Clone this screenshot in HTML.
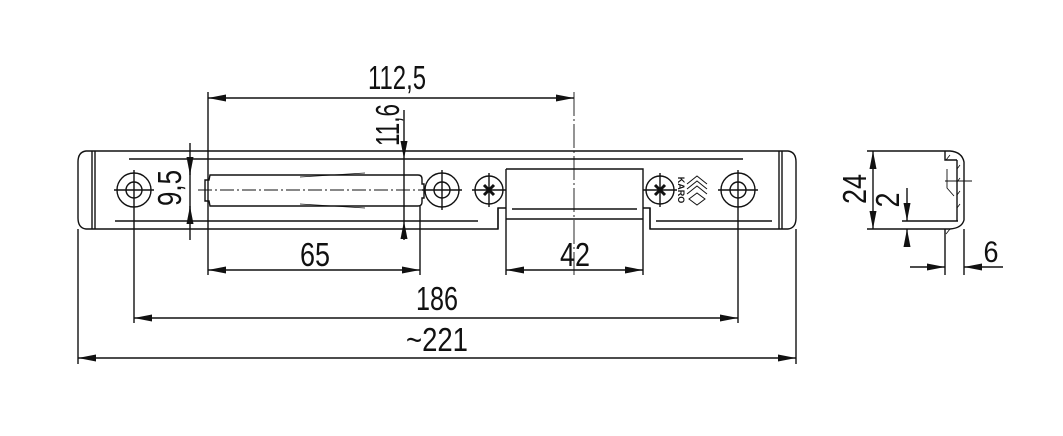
<!DOCTYPE html>
<html><head><meta charset="utf-8"><style>
html,body{margin:0;padding:0;background:#fff}
svg{display:block}
text{font-family:"Liberation Sans",sans-serif;fill:#111}
</style></head><body>
<svg width="1063" height="436" viewBox="0 0 1063 436" xmlns="http://www.w3.org/2000/svg">
<defs>
<marker id="a" viewBox="0 0 18 7" refX="18" refY="3.5" markerWidth="18" markerHeight="7" markerUnits="userSpaceOnUse" orient="auto-start-reverse"><path d="M0,0L18,3.5L0,7z" fill="#111"/></marker>
</defs>
<g fill="none" stroke="#111" stroke-width="1.4">
<path d="M95,151H779 M95,229H498V208H506 M643,208H650V229H779"/>
<path d="M498,208V229 M650,208V229"/>
<path d="M95,151H86Q78,152 78,162V218Q78,228 86,229H95"/>
<path d="M92,151V229 M95,151V229"/>
<path d="M779,151H788Q796,152 796,162V218Q796,228 788,229H779"/>
<path d="M782,151V229 M779,151V229"/>
<path d="M129,159H743 M115,221H478 M656,221H772"/>
<path d="M506,169H643V229 M506,169V229 M512,209H637 M506,219H643"/>
<circle cx="134" cy="190" r="17"/><circle cx="134" cy="190" r="8"/>
<circle cx="442" cy="190" r="17"/><circle cx="442" cy="190" r="8"/>
<circle cx="738" cy="190" r="17"/><circle cx="738" cy="190" r="8"/>
<path d="M114,190H154 M134,170V210 M422,190H462 M442,170V210 M718,190H758 M738,170V210"/>
<circle cx="489" cy="190" r="14"/><circle cx="660" cy="190" r="14"/>
<path d="M472,190H506 M489,173V207 M643,190H677 M660,173V207"/>
<path d="M484,185L494,195M494,185L484,195M655,185L665,195M665,185L655,195" stroke-width="3"/>
<path d="M687,184L697,176L707,184M687,189L697,181L707,189M687,194L697,186L707,194M689,199L697,193L705,199L697,205Z" stroke-width="1"/>
<path d="M210,175H418Q422,175 422,179V184H424V198H422V202Q422,206 418,206H210L209,201H205V180H209Z"/>
<path d="M300,177L365,173 M300,204L365,208" stroke-width="0.8"/>
<path d="M198,190H426" stroke-dasharray="14,3,2,3" stroke-width="0.9"/>
<path d="M574,92V275" stroke-dasharray="24,3,2,3" stroke-width="0.9"/>
<path d="M208,92V275 M420,206V275 M506,229V275 M643,229V275 M134,210V323 M738,210V323 M78,229V364 M796,229V364"/>
<path d="M190,143V240 M404,110V150 M404,230V240 M404,159V221"/>
</g>
<g fill="none" stroke="#111" stroke-width="1.4">
<path d="M208,98H574" marker-start="url(#a)" marker-end="url(#a)"/>
<path d="M208,270H420" marker-start="url(#a)" marker-end="url(#a)"/>
<path d="M506,270H643" marker-start="url(#a)" marker-end="url(#a)"/>
<path d="M134,318H738" marker-start="url(#a)" marker-end="url(#a)"/>
<path d="M78,358H796" marker-start="url(#a)" marker-end="url(#a)"/>
<path d="M404,143V159" marker-end="url(#a)"/>
<path d="M404,237V221" marker-end="url(#a)"/>
<path d="M190,159V175" marker-end="url(#a)"/>
<path d="M190,222V206" marker-end="url(#a)"/>
<path d="M867,151H950Q962,152 964,162V220Q962,228 950,229H867"/>
<path d="M945,151V160H957 M957,160V221 M902,221H958 M945,229V275 M964,229V275"/>
<path d="M947,169V188L954,196 M945,181H972" stroke-width="0.9"/>
<path d="M950,155L946,160 M960,165L957,169 M960,178L957,182 M960,191L957,195 M960,204L957,208 M950,229L946,234" stroke-width="0.8"/>
<path d="M873,151V229" marker-start="url(#a)" marker-end="url(#a)"/>
<path d="M907,188V221" marker-end="url(#a)"/>
<path d="M907,245V229" marker-end="url(#a)"/>
<path d="M910,267H945" marker-end="url(#a)"/>
<path d="M1003,267H964" marker-end="url(#a)"/>
</g>
<g style="font-size:33px">
<text x="397" y="89" text-anchor="middle" textLength="58" lengthAdjust="spacingAndGlyphs">112,5</text>
<text x="315" y="266" text-anchor="middle" textLength="30" lengthAdjust="spacingAndGlyphs">65</text>
<text x="575" y="266" text-anchor="middle" textLength="30" lengthAdjust="spacingAndGlyphs">42</text>
<text x="437" y="310" text-anchor="middle" textLength="42" lengthAdjust="spacingAndGlyphs">186</text>
<text x="437" y="351" text-anchor="middle" textLength="62" lengthAdjust="spacingAndGlyphs">~221</text>
<text x="991" y="262" text-anchor="middle" style="font-size:30px" textLength="15" lengthAdjust="spacingAndGlyphs">6</text>
<text transform="translate(399,125) rotate(-90)" text-anchor="middle" textLength="42" lengthAdjust="spacingAndGlyphs">11,6</text>
<text transform="translate(181,188) rotate(-90)" text-anchor="middle" textLength="36" lengthAdjust="spacingAndGlyphs">9,5</text>
<text transform="translate(866,189) rotate(-90)" text-anchor="middle" textLength="30" lengthAdjust="spacingAndGlyphs">24</text>
<text transform="translate(899,200) rotate(-90)" text-anchor="middle" textLength="15" lengthAdjust="spacingAndGlyphs">2</text>
</g>
<text transform="translate(678,190) rotate(90)" text-anchor="middle" style="font-size:9px;font-weight:bold">KARO</text>
</svg>
</body></html>
